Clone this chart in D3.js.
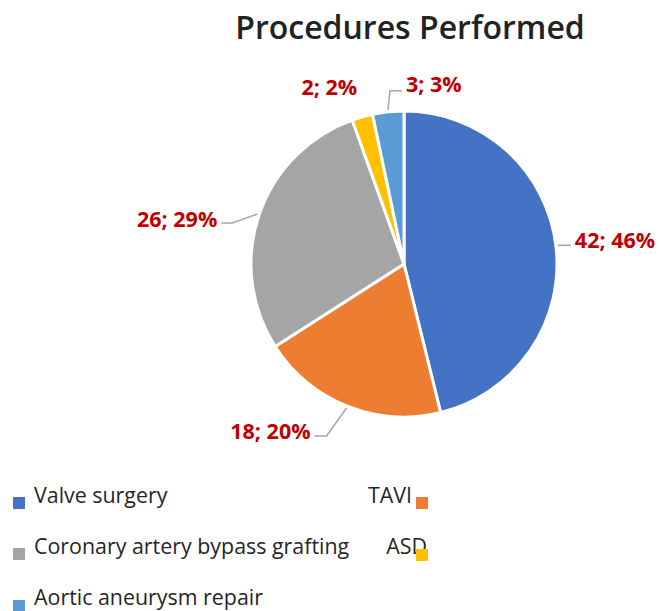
<!DOCTYPE html>
<html>
<head>
<meta charset="utf-8">
<script src="https://cdn.jsdelivr.net/npm/d3@7"></script>
<style>
  body { margin: 0; background: #fff; }
  svg { display: block; }
</style>
</head>
<body>
<svg id="chart" width="659" height="611"></svg>
<script>
// data
var categories = ["Valve surgery", "TAVI", "Coronary artery bypass grafting", "ASD", "Aortic aneurysm repair"];
var counts = [42, 18, 26, 2, 3];
var colors = ["#4472C4", "#ED7D31", "#A5A5A5", "#FFC000", "#5B9BD5"];
var title = "Procedures Performed";

var svg = d3.select("#chart");
var cx = 404, cy = 264, R = 153;

var total = d3.sum(counts);
var pie = d3.pie().sort(null).value(function(d) { return d; });
var arcs = pie(counts);
var arc = d3.arc().innerRadius(0).outerRadius(R);

svg.append("text")
    .attr("x", 410)
    .attr("y", 39)
    .attr("text-anchor", "middle")
    .attr("font-family", "Open Sans")
    .attr("font-weight", 600)
    .attr("font-size", 32)
    .attr("fill", "#222")
    .text(title);

var g = svg.append("g").attr("transform", "translate(" + cx + "," + cy + ")");

g.selectAll("path.slice")
    .data(arcs)
    .enter().append("path")
    .attr("class", "slice")
    .attr("d", arc)
    .attr("fill", function(d, i) { return colors[i]; })
    .attr("stroke", "#fff")
    .attr("stroke-width", 3)
    .attr("stroke-linejoin", "round");

// point on circle at angle a (radians, clockwise from 12 o'clock)
function polar(a, r) { return [r * Math.sin(a), -r * Math.cos(a)]; }

// label layout: leader route and text placement, per slice (offsets relative to arc mid point)
var labelLayout = [
  { r: 155, pts: [[0, 0], [13, 0]], dx: 17, dy: -5, anchor: "start" },
  { r: 155, pts: [[0, 0], [-20, 28], [-32, 28]], dx: -36, dy: 24, anchor: "end" },
  { r: 155, pts: [[0, 0], [-25, 9], [-36, 9]], dx: -40, dy: 5, anchor: "end" },
  { r: 160, pts: null, dx: -31, dy: -23, anchor: "middle" },
  { r: 155, pts: [[0, 0], [2, -19], [14, -19]], dx: 18, dy: -25, anchor: "start" }
];

arcs.forEach(function(d, i) {
  var mid = (d.startAngle + d.endAngle) / 2;
  var L = labelLayout[i];
  var p = polar(mid, L.r);
  if (L.pts) {
    g.append("path")
        .attr("d", d3.line()(L.pts.map(function(q) { return [p[0] + q[0], p[1] + q[1]]; })))
        .attr("fill", "none")
        .attr("stroke", "#A6A6A6")
        .attr("stroke-width", 1.5);
  }
  var pct = Math.round(d.value / total * 100);
  g.append("text")
      .attr("x", p[0] + L.dx)
      .attr("y", p[1] + L.dy)
      .attr("dy", "0.35em")
      .attr("text-anchor", L.anchor)
      .attr("font-family", "Open Sans")
      .attr("font-weight", 700)
      .attr("font-size", 21.5)
      .attr("fill", "#C00000")
      .text(d.value + "; " + pct + "%");
});

// legend
var legendItems = [
  { i: 0, x: 34, y: 503, anchor: "start", sx: 13, sy: 497 },
  { i: 1, x: 412, y: 503, anchor: "end", sx: 416, sy: 497 },
  { i: 2, x: 34, y: 554, anchor: "start", sx: 13, sy: 548 },
  { i: 3, x: 427, y: 554, anchor: "end", sx: 416, sy: 549 },
  { i: 4, x: 34, y: 605, anchor: "start", sx: 13, sy: 600 }
];

var lg = svg.append("g");
legendItems.forEach(function(L) {
  lg.append("text")
      .attr("x", L.x)
      .attr("y", L.y)
      .attr("text-anchor", L.anchor)
      .attr("font-family", "Open Sans")
      .attr("font-size", 21.4)
      .attr("fill", "#262626")
      .text(categories[L.i]);
  lg.append("rect")
      .attr("x", L.sx)
      .attr("y", L.sy)
      .attr("width", 12)
      .attr("height", 12)
      .attr("fill", colors[L.i]);
});
</script>
</body>
</html>
